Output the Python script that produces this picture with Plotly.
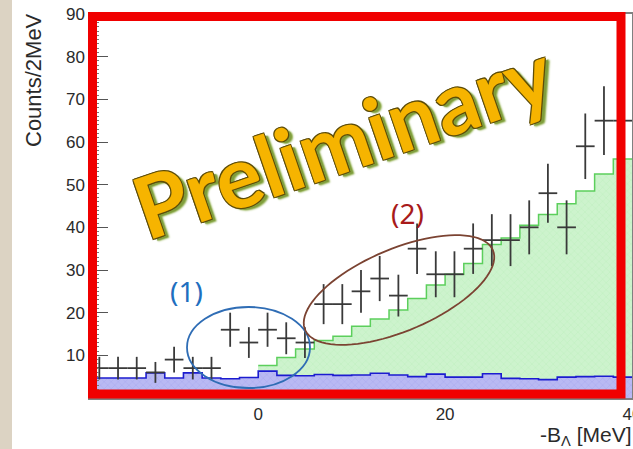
import numpy as np
import plotly.graph_objects as go

# ---------------- data ----------------
bin_centers = [-17, -15, -13, -11, -9, -7, -5, -3, -1, 1, 3, 5, 7, 9, 11, 13, 15,
               17, 19, 21, 23, 25, 27, 29, 31, 33, 35, 37, 39]
counts = [7, 7, 7, 6, 9, 7, 7, 16, 13, 16, 14, 13, 22, 22, 25, 28, 24,
          35, 29, 29, 35, 37, 37, 40, 48, 40, 59, 65, 65]
background = [4.7, 4.7, 4.7, 5.9, 4.7, 5.9, 4.7, 4.5, 4.8, 6.3, 5.3, 5.2, 5.5, 5.3, 5.4,
              5.8, 5.4, 5.0, 5.6, 4.9, 4.9, 5.7, 4.6, 4.5, 4.3, 4.9, 5.0, 5.1, 4.9]
sim_centers = [1, 3, 5, 7, 9, 11, 13, 15, 17, 19, 21, 23, 25, 27, 29, 31, 33, 35, 37, 39]
simulation = [7.6, 9.5, 11.5, 13.5, 14.5, 16.8, 18.5, 20.6, 23.3, 26.5, 29, 31.5,
              36, 37.5, 40.5, 43, 45.5, 48.5, 52.5, 56]
x_ticks = [0, 20, 40]
y_ticks = [10, 20, 30, 40, 50, 60, 70, 80, 90]

W, H = 633, 449
L, R, T, B = 90, 1, 14, 51
XR = [-18, 40]
YR = [0, 90]


def px2x(px):
    return XR[0] + (px - L) / (W - L - R) * (XR[1] - XR[0])


def px2y(py):
    return YR[0] + (H - B - py) / (H - T - B) * (YR[1] - YR[0])


def pap_x(px):
    return (px - L) / (W - L - R)


def pap_y(py):
    return (H - B - py) / (H - T - B)


def step(centers, vals):
    xs = [c - 1 for c in centers] + [centers[-1] + 1]
    ys = list(vals) + [vals[-1]]
    return xs, ys


fig = go.Figure()

# green (simulation) histogram
fig.add_trace(go.Bar(x=sim_centers, y=simulation, width=2,
                     marker=dict(color="#cdf3cd", line_width=0,
                                 pattern=dict(shape="x", size=5, solidity=0.15,
                                              fgcolor="#a8e6a8")),
                     showlegend=False))
gx, gy = step(sim_centers, simulation)
fig.add_trace(go.Scatter(x=gx, y=gy, mode="lines", line_shape="hv",
                         line=dict(color="#5ccf5c", width=1.5), showlegend=False))

# blue (background) histogram
fig.add_trace(go.Bar(x=bin_centers, y=background, width=2,
                     marker=dict(color="#b9b9f3", line_width=0,
                                 pattern=dict(shape="x", size=5, solidity=0.2,
                                              fgcolor="#9a9ae8")),
                     showlegend=False))
bx, by = step(bin_centers, background)
fig.add_trace(go.Scatter(x=bx, y=by, mode="lines", line_shape="hv",
                         line=dict(color="#1c1cd0", width=1.6), showlegend=False))

# data points
fig.add_trace(go.Scatter(
    x=bin_centers, y=counts, mode="markers",
    marker=dict(size=1, color="#333333"),
    error_y=dict(type="data", array=list(np.sqrt(counts)), width=0,
                 thickness=1.8, color="#3a3a3a"),
    error_x=dict(type="constant", value=1, width=0, thickness=1.8, color="#3a3a3a"),
    showlegend=False))

shapes = []
# beige paper strip on the far left
shapes.append(dict(type="rect", xref="paper", yref="paper",
                   x0=pap_x(0), x1=pap_x(12), y0=pap_y(H), y1=pap_y(0),
                   fillcolor="#dcd3c3", line_width=0, layer="above"))

# blue ellipse (1)
shapes.append(dict(type="circle", xref="x", yref="y",
                   x0=px2x(187), x1=px2x(310), y0=px2y(388), y1=px2y(307),
                   line=dict(color="#2f6db5", width=1.8)))

# brown rotated ellipse (2)
cx, cy, a, b, th = 399, 290, 102, 41, np.deg2rad(23)
t = np.linspace(0, 2 * np.pi, 90)
ex = cx + a * np.cos(t) * np.cos(th) - b * np.sin(t) * np.sin(th)
ey = cy - a * np.cos(t) * np.sin(th) - b * np.sin(t) * np.cos(th)
path = "M " + " L ".join(f"{px2x(u):.3f},{px2y(v):.3f}" for u, v in zip(ex, ey)) + " Z"
shapes.append(dict(type="path", xref="x", yref="y", path=path,
                   line=dict(color="#7b4332", width=1.8)))

# red frame
shapes.append(dict(type="rect", xref="paper", yref="paper",
                   x0=pap_x(92.5), x1=pap_x(621), y0=pap_y(394), y1=pap_y(16.5),
                   line=dict(color="#f00000", width=9), layer="above"))

annotations = [
    dict(text="Preliminary", xref="paper", yref="paper",
         x=pap_x(342), y=pap_y(138), xanchor="center", yanchor="middle",
         showarrow=False, textangle=-19,
         font=dict(family="Lato", size=86, color="#f6b400", weight="bold",
                   shadow="-1px -1px 0 #5e4d08, 1px -1px 0 #5e4d08, -1px 1px 0 #5e4d08, "
                          "1px 1px 0 #5e4d08, 3px 3px 1px #7f9d3c, 4px 4px 2px #8fae4a")),
    dict(text="(1)", xref="paper", yref="paper",
         x=pap_x(186), y=pap_y(291), xanchor="center", yanchor="middle",
         showarrow=False, font=dict(family="Noto Sans", size=28, color="#1f6fbf")),
    dict(text="(2)", xref="paper", yref="paper",
         x=pap_x(407), y=pap_y(213), xanchor="center", yanchor="middle",
         showarrow=False, font=dict(family="Noto Sans", size=28, color="#a81a1a")),
    dict(text="Counts/2MeV", xref="paper", yref="paper",
         x=pap_x(33), y=pap_y(80), xanchor="center", yanchor="middle",
         showarrow=False, textangle=-90,
         font=dict(family="Liberation Sans", size=22, color="#2a2a2a")),
    dict(text="-B<sub>Λ</sub> [MeV]", xref="paper", yref="paper",
         x=pap_x(634), y=pap_y(421), xanchor="right", yanchor="top", showarrow=False,
         font=dict(family="Liberation Sans", size=21, color="#2a2a2a")),
]

fig.update_layout(
    width=W, height=H, margin=dict(l=L, r=R, t=T, b=B, autoexpand=False),
    paper_bgcolor="white", plot_bgcolor="white",
    barmode="overlay", bargap=0,
    shapes=shapes, annotations=annotations,
    xaxis=dict(range=XR, tickvals=x_ticks, ticktext=[str(v) for v in x_ticks],
               ticks="", showgrid=False, zeroline=False, ticklabeloverflow="allow",
               automargin=False,
               showline=True, linecolor="#808080", linewidth=1.5, mirror=True,
               tickfont=dict(family="Liberation Sans", size=17, color="#2a2a2a")),
    yaxis=dict(range=YR, tickvals=y_ticks, ticktext=[str(v) for v in y_ticks],
               ticks="inside", ticklen=18, tickcolor="#555555", tickwidth=1.2,
               minor=dict(ticks="inside", dtick=1, ticklen=9, tickcolor="#777777",
                          tickwidth=1),
               showgrid=False, zeroline=False, ticklabeloverflow="allow",
               automargin=False,
               showline=True, linecolor="#808080", linewidth=1.5, mirror=True,
               tickfont=dict(family="Liberation Sans", size=17, color="#2a2a2a")),
)

fig.write_html("out.html")
